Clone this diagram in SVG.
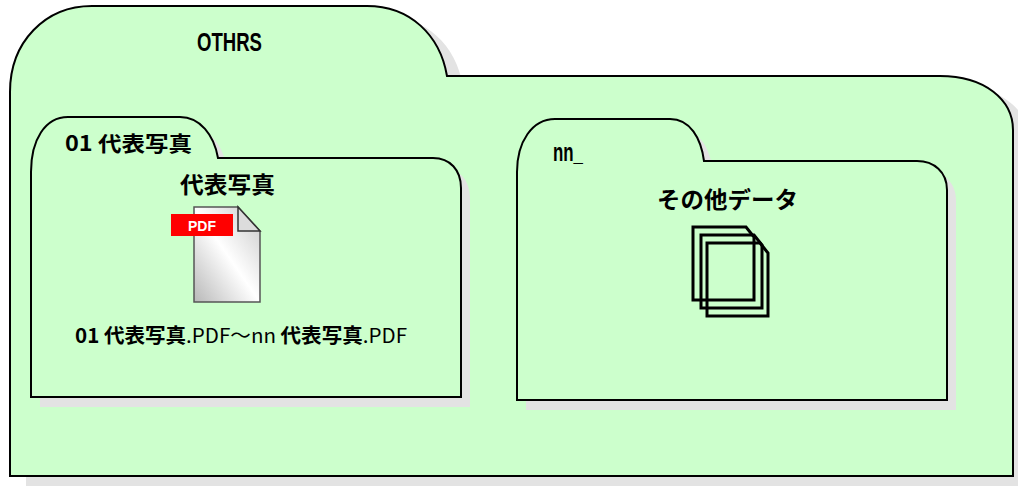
<svg xmlns="http://www.w3.org/2000/svg" width="1018" height="486" viewBox="0 0 1018 486">
<style>
.shadow{fill:#e3e3e3;stroke:none}
.folder{fill:#ccffcc;stroke:#000;stroke-width:2}
.lat{font-family:"Liberation Sans",Arial,sans-serif;fill:#000}
.jp{font-family:"Noto Sans CJK JP","Noto Sans",sans-serif;fill:#000}
.doc{fill:none;stroke:#000;stroke-width:3;stroke-linejoin:miter}
</style>
<defs>
<path id="outerShape" d="M10,476 V92 C10,42 45,6 92,6 H367 C410,6 440,35 447,76 H940 C985,76 1013,100 1013,130 V476 Z"/>
<path id="in1Shape" d="M31,397 V172 C31,140 45,117 68,117 H180 C200,117 214,135 218,158 H433 C450,158 461,170 461,188 V397 Z"/>
<path id="in2Shape" d="M517,400 V172 C517,142 532,119 555,119 H670 C690,119 701,138 704,161 H917 C934,161 947,172 947,190 V400 Z"/>
<linearGradient id="pg" x1="0" y1="1" x2="1" y2="0">
<stop offset="0" stop-color="#b8b8b8"/>
<stop offset="0.5" stop-color="#ffffff"/>
<stop offset="1" stop-color="#c8c8c8"/>
</linearGradient>
</defs>

<g id="othrs">
<use href="#outerShape" class="shadow" transform="translate(16,10)"/>
<use href="#outerShape" class="folder"/>
<text class="lat" x="197" y="51" font-size="26" font-weight="bold" textLength="65" lengthAdjust="spacingAndGlyphs">OTHRS</text>
</g>

<g id="folder01">
<use href="#in1Shape" class="shadow" transform="translate(9,10)"/>
<use href="#in1Shape" class="folder"/>
<text class="jp" x="65" y="151" font-size="21" font-weight="bold" textLength="127" lengthAdjust="spacingAndGlyphs">01 代表写真</text>
<text class="jp" x="180" y="193" font-size="23" font-weight="bold" textLength="95" lengthAdjust="spacingAndGlyphs">代表写真</text>
<g id="pdfIcon">
<path d="M194,207 H238 L260,231 V302 H194 Z" fill="url(#pg)" stroke="#555" stroke-width="1.5"/>
<path d="M238,207 V231 H260 Z" fill="#dcdcdc" stroke="#333" stroke-width="1.5"/>
<rect x="171" y="214" width="62" height="22" fill="#ff0000"/>
<text x="202" y="231" text-anchor="middle" font-family="Liberation Sans,Arial,sans-serif" font-size="14" font-weight="bold" fill="#fff">PDF</text>
</g>
<text class="jp" x="75" y="343" font-size="20" textLength="332" lengthAdjust="spacingAndGlyphs"><tspan font-weight="bold">01 代表写真</tspan><tspan>.PDF～nn </tspan><tspan font-weight="bold">代表写真</tspan><tspan>.PDF</tspan></text>
</g>

<g id="foldernn">
<use href="#in2Shape" class="shadow" transform="translate(9,10)"/>
<use href="#in2Shape" class="folder"/>
<text class="lat" x="553" y="161" font-size="25" font-weight="bold" textLength="30" lengthAdjust="spacingAndGlyphs">nn_</text>
<text class="jp" x="657" y="208" font-size="23" font-weight="bold" textLength="141" lengthAdjust="spacingAndGlyphs">その他データ</text>
<g id="docsIcon">
<path class="doc" d="M693,227 H746 L754,237 V300 H693 Z"/>
<path class="doc" d="M701,235 H754 L762,245 V308 H701 Z"/>
<path class="doc" d="M707,243 H760 L768,253 V316 H707 Z"/>
</g>
</g>

<g id="connectors"></g>
</svg>
